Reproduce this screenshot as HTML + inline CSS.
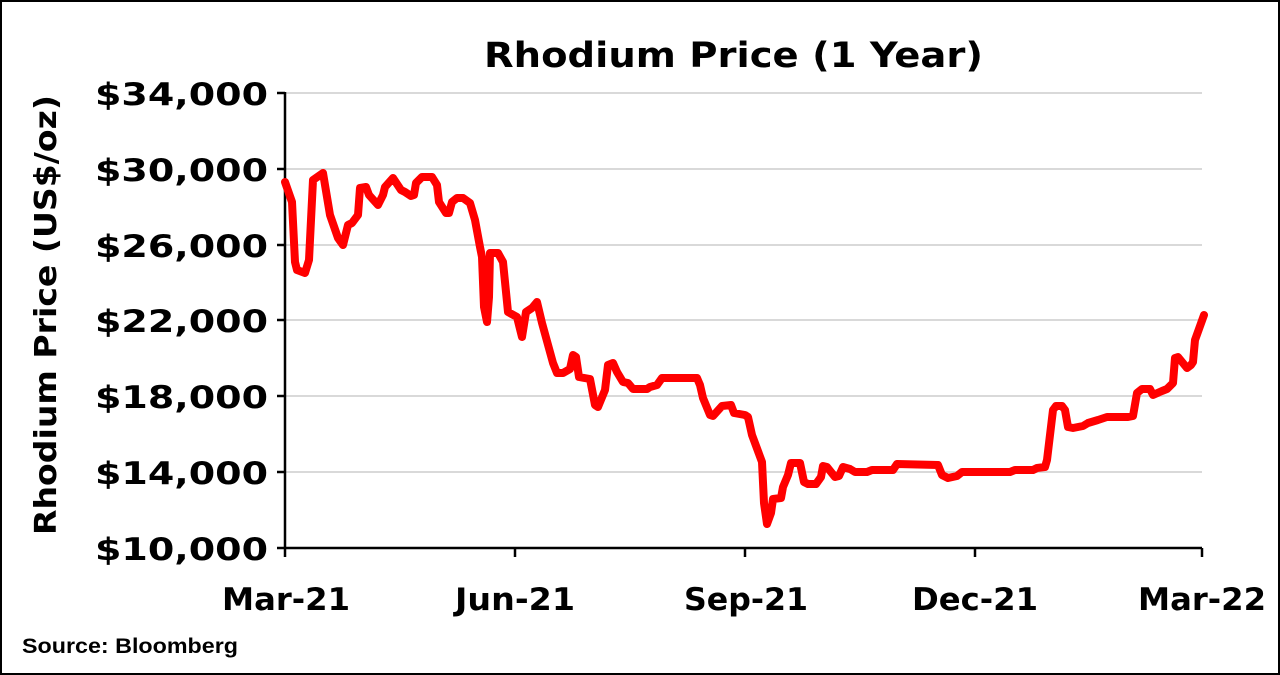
<!DOCTYPE html>
<html><head><meta charset="utf-8"><style>
body{margin:0;background:#fff}
svg{display:block}
text{font-family:"DejaVu Sans","Liberation Sans",Arial,sans-serif;font-weight:bold;fill:#000}
</style></head><body>
<svg width="1280" height="675" viewBox="0 0 1280 675">
<rect x="1" y="1" width="1278" height="673" fill="#fff" stroke="#000" stroke-width="2"/>
<text x="484" y="67" font-size="35" textLength="499" lengthAdjust="spacingAndGlyphs">Rhodium Price (1 Year)</text>
<g stroke="#d9d9d9" stroke-width="2">
<line x1="285" y1="93" x2="1202" y2="93"/><line x1="285" y1="169" x2="1202" y2="169"/>
<line x1="285" y1="245" x2="1202" y2="245"/><line x1="285" y1="320" x2="1202" y2="320"/>
<line x1="285" y1="396" x2="1202" y2="396"/><line x1="285" y1="472" x2="1202" y2="472"/>
</g>
<g stroke="#000" stroke-width="2.5">
<line x1="285" y1="92" x2="285" y2="557"/><line x1="284" y1="548" x2="1202" y2="548"/>
<line x1="277" y1="93" x2="285" y2="93"/><line x1="277" y1="169" x2="285" y2="169"/>
<line x1="277" y1="245" x2="285" y2="245"/><line x1="277" y1="320" x2="285" y2="320"/>
<line x1="277" y1="396" x2="285" y2="396"/><line x1="277" y1="472" x2="285" y2="472"/>
<line x1="277" y1="548" x2="285" y2="548"/>
<line x1="515" y1="548" x2="515" y2="557"/><line x1="745" y1="548" x2="745" y2="557"/>
<line x1="975" y1="548" x2="975" y2="557"/><line x1="1202" y1="548" x2="1202" y2="557"/>
</g>
<g font-size="31">
<text x="95" y="105" textLength="173" lengthAdjust="spacingAndGlyphs">$34,000</text>
<text x="95" y="181" textLength="173" lengthAdjust="spacingAndGlyphs">$30,000</text>
<text x="95" y="257" textLength="173" lengthAdjust="spacingAndGlyphs">$26,000</text>
<text x="95" y="332" textLength="173" lengthAdjust="spacingAndGlyphs">$22,000</text>
<text x="95" y="408" textLength="173" lengthAdjust="spacingAndGlyphs">$18,000</text>
<text x="95" y="484" textLength="173" lengthAdjust="spacingAndGlyphs">$14,000</text>
<text x="95" y="560" textLength="173" lengthAdjust="spacingAndGlyphs">$10,000</text>
</g>
<g font-size="31">
<text x="222" y="610" textLength="128" lengthAdjust="spacingAndGlyphs">Mar-21</text>
<text x="455" y="610" textLength="120" lengthAdjust="spacingAndGlyphs">Jun-21</text>
<text x="684" y="610" textLength="124" lengthAdjust="spacingAndGlyphs">Sep-21</text>
<text x="912" y="610" textLength="126" lengthAdjust="spacingAndGlyphs">Dec-21</text>
<text x="1138" y="610" textLength="128" lengthAdjust="spacingAndGlyphs">Mar-22</text>
</g>
<text transform="translate(56,535) rotate(-90)" font-size="30" textLength="440" lengthAdjust="spacingAndGlyphs">Rhodium Price (US$/oz)</text>
<text x="22" y="653" font-size="21" textLength="216" lengthAdjust="spacingAndGlyphs" style="font-family:'Liberation Sans',sans-serif">Source: Bloomberg</text>
<polyline fill="none" stroke="#ff0000" stroke-width="8" stroke-linejoin="round" stroke-linecap="round" points="
285,182 292,202 295,262 297,270 305,273 309,260 313,180 323,173 327,197 330,215 338,238 343,245 348,225 352,223 358,215 360,188 366,187 369,195 378,205 383,195 385,187 393,178 401,190 405,192 411,196 414,195 416,183 422,177 432,177 437,185 439,202 446,213 449,213 452,202 457,198 463,198 470,203 475,220 480,247 482,257 484,307 487,322 489,297 490,253 498,253 503,262 508,312 517,317 522,337 526,312 532,308 537,302 542,323 553,363 557,373 563,373 570,369 573,355 576,357 579,377 590,379 595,405 598,407 605,390 608,365 613,363 617,372 623,382 628,383 633,389 647,389 650,387 657,385 662,378 697,378 700,385 703,398 710,415 713,416 722,406 731,405 734,413 745,415 748,417 752,435 762,462 764,503 767,524 771,513 773,499 781,498 783,487 788,475 791,463 800,463 804,482 808,484 816,484 821,477 823,466 827,467 835,477 839,476 843,467 850,469 855,472 867,472 872,470 893,470 897,464 938,465 942,475 948,478 957,476 962,472 1010,472 1015,470 1033,470 1037,468 1045,467 1047,460 1053,410 1056,406 1062,406 1065,410 1068,427 1073,428 1083,426 1088,423 1098,420 1107,417 1128,417 1133,416 1137,393 1142,389 1150,389 1153,395 1162,391 1167,389 1173,383 1175,358 1178,357 1187,368 1191,365 1193,362 1195,340 1204,315"/>
</svg>
</body></html>
